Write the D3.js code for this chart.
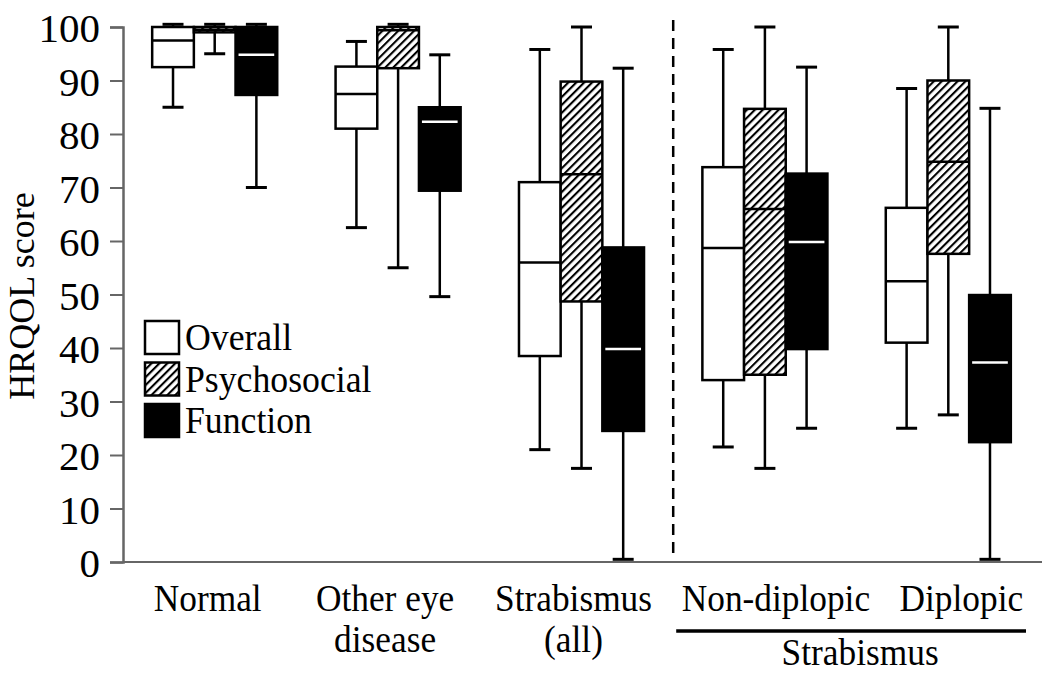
<!DOCTYPE html>
<html>
<head>
<meta charset="utf-8">
<script src="https://cdn.jsdelivr.net/npm/d3@7/dist/d3.min.js"></script>
<style>
  html, body { margin: 0; padding: 0; background: #fff; }
  svg { display: block; }
  text, tspan { font-family: 'Liberation Serif', 'Times New Roman', Times, serif; fill: #000; }
</style>
</head>
<body>
<svg id="chart" width="1050" height="674"></svg>
<script>
// ---------------- data ----------------
const groups = ["Normal", "Other eye disease", "Strabismus (all)", "Non-diplopic", "Diplopic"];
const groupLabels = [["Normal"], ["Other eye", "disease"], ["Strabismus", "(all)"], ["Non-diplopic"], ["Diplopic"]];
const series = ["Overall", "Psychosocial", "Function"];
const yTicks = [0, 10, 20, 30, 40, 50, 60, 70, 80, 90, 100];

// box-plot statistics per group (low whisker, Q1, median, Q3, high whisker)
const overallLow  = [85, 62.5, 21, 21.5, 25];
const overallQ1   = [92.5, 81, 38.5, 34, 41];
const overallMed  = [97.5, 87.5, 56, 58.7, 52.5];
const overallQ3   = [100, 92.6, 71, 73.8, 66.2];
const overallHigh = [100.5, 97.3, 95.8, 95.8, 88.5];

const psychLow  = [95, 55, 17.5, 17.5, 27.5];
const psychQ1   = [99, 92.3, 48.7, 35, 57.6];
const psychMed  = [99.5, 99.4, 72.5, 66, 74.8];
const psychQ3   = [100, 100, 89.8, 84.7, 90];
const psychHigh = [100.5, 100.5, 100, 100, 100];

const funcLow  = [70, 49.6, 0.5, 25, 0.5];
const funcQ1   = [87.3, 69.4, 24.5, 39.8, 22.4];
const funcMed  = [94.8, 82.3, 39.8, 59.8, 37.3];
const funcQ3   = [100, 85, 58.8, 72.6, 49.9];
const funcHigh = [100.5, 94.8, 92.3, 92.5, 84.8];

const subGroupTitle = "Strabismus";
const yTitle = "HRQOL score";

// ---------------- build rows ----------------
const stats = {
  "Overall":      [overallLow, overallQ1, overallMed, overallQ3, overallHigh],
  "Psychosocial": [psychLow, psychQ1, psychMed, psychQ3, psychHigh],
  "Function":     [funcLow, funcQ1, funcMed, funcQ3, funcHigh]
};
const rows = [];
groups.forEach((g, gi) => {
  series.forEach(s => {
    const a = stats[s];
    rows.push({ group: g, series: s, low: a[0][gi], q1: a[1][gi], med: a[2][gi], q3: a[3][gi], high: a[4][gi] });
  });
});

// ---------------- layout ----------------
const FONT = "'Liberation Serif', 'Times New Roman', Times, serif";
const svg = d3.select("#chart");
const x0 = d3.scaleBand().domain(groups).range([123, 1040]).padding(0);
const x1 = d3.scaleBand().domain(series).range([0, x0.bandwidth()]).paddingInner(0).paddingOuter(0.7);
const y = d3.scaleLinear().domain([0, 100]).range([562, 27]);

// helper: slightly condensed, taller serif text
function label(parent, x, yy, str, size, anchor, sx) {
  return parent.append("text")
    .attr("transform", `translate(${x},${yy}) scale(${sx},1)`)
    .attr("text-anchor", anchor)
    .style("font-family", FONT)
    .style("font-size", size + "px")
    .text(str);
}

// hatch pattern
const defs = svg.append("defs");
const pat = defs.append("pattern")
  .attr("id", "hatch").attr("patternUnits", "userSpaceOnUse")
  .attr("width", 5.6).attr("height", 5.6)
  .attr("patternTransform", "rotate(45)");
pat.append("rect").attr("width", 5.6).attr("height", 5.6).attr("fill", "#fff");
pat.append("line").attr("x1", 1).attr("y1", 0).attr("x2", 1).attr("y2", 5.6)
  .attr("stroke", "#000").attr("stroke-width", 2.2);

const fillFor = s => s === "Overall" ? "#fff" : (s === "Psychosocial" ? "url(#hatch)" : "#000");

// axes
const yAxis = d3.axisLeft(y).tickValues(yTicks).tickSize(13).tickPadding(10).tickFormat(d3.format("d"));
const gy = svg.append("g").attr("transform", "translate(123,0)").call(yAxis);
gy.attr("font-family", null).attr("font-size", null);
gy.select(".domain").attr("stroke", "#666").attr("stroke-width", 2.5);
gy.selectAll(".tick line").attr("stroke", "#666").attr("stroke-width", 2);
gy.selectAll(".tick text")
  .style("font-family", FONT).style("font-size", "41px")
  .attr("fill", "#000").attr("dy", "0.36em");

svg.append("line").attr("x1", 123).attr("x2", 1042).attr("y1", y(0)).attr("y2", y(0))
  .attr("stroke", "#666").attr("stroke-width", 2);

// y title
svg.append("text")
  .attr("transform", `translate(34,296) rotate(-90)`)
  .attr("text-anchor", "middle")
  .style("font-family", FONT)
  .style("font-size", "36px")
  .text(yTitle);

// boxes
const boxG = svg.append("g");
const cap = 21;
rows.forEach(r => {
  const bx = x0(r.group) + x1(r.series);
  const bw = x1.bandwidth();
  const cx = bx + bw / 2;
  const g = boxG.append("g");
  g.append("line").attr("x1", cx).attr("x2", cx).attr("y1", y(r.high)).attr("y2", y(r.q3))
    .attr("stroke", "#000").attr("stroke-width", 2.5);
  g.append("line").attr("x1", cx).attr("x2", cx).attr("y1", y(r.q1)).attr("y2", y(r.low))
    .attr("stroke", "#000").attr("stroke-width", 2.5);
  g.append("line").attr("x1", cx - cap / 2).attr("x2", cx + cap / 2).attr("y1", y(r.high)).attr("y2", y(r.high))
    .attr("stroke", "#000").attr("stroke-width", 3);
  g.append("line").attr("x1", cx - cap / 2).attr("x2", cx + cap / 2).attr("y1", y(r.low)).attr("y2", y(r.low))
    .attr("stroke", "#000").attr("stroke-width", 3);
  g.append("rect").attr("x", bx).attr("y", y(r.q3)).attr("width", bw).attr("height", y(r.q1) - y(r.q3))
    .attr("fill", fillFor(r.series)).attr("stroke", "#000").attr("stroke-width", 2.5);
  const white = r.series === "Function";
  g.append("line").attr("x1", bx + (white ? 3 : 0)).attr("x2", bx + bw - (white ? 3 : 0))
    .attr("y1", y(r.med)).attr("y2", y(r.med))
    .attr("stroke", white ? "#fff" : "#000").attr("stroke-width", 2.5);
});

// dashed separator between Strabismus (all) and sub-groups
const sepX = x0("Non-diplopic");
svg.append("line").attr("x1", sepX).attr("x2", sepX).attr("y1", 20).attr("y2", y(1))
  .attr("stroke", "#000").attr("stroke-width", 2.5).attr("stroke-dasharray", "11,7");

// x labels
const labelDx = [-7, -13, -8, 11, 13];
groups.forEach((g, i) => {
  const cx = x0(g) + x0.bandwidth() / 2 + labelDx[i];
  groupLabels[i].forEach((line, li) => {
    label(svg, cx, 611 + li * 41, line, 38, "middle", 0.93);
  });
});

// bracket under sub-groups
const bx1 = x0("Non-diplopic") + 3, bx2 = x0("Diplopic") + x0.bandwidth() - 14;
svg.append("line").attr("x1", bx1).attr("x2", bx2).attr("y1", 631).attr("y2", 631)
  .attr("stroke", "#000").attr("stroke-width", 3.5);
label(svg, (bx1 + bx2) / 2 + 9, 665, subGroupTitle, 38, "middle", 0.93);

// legend
const leg = svg.append("g").attr("transform", "translate(144,320)");
series.forEach((s, i) => {
  const gl = leg.append("g").attr("transform", `translate(0,${i * 41.5})`);
  gl.append("rect").attr("x", 1).attr("y", 1).attr("width", 34).attr("height", 33)
    .attr("fill", fillFor(s)).attr("stroke", "#000").attr("stroke-width", 2.5);
  label(gl, 41, 30, s, 38, "start", 0.94);
});
</script>
</body>
</html>
